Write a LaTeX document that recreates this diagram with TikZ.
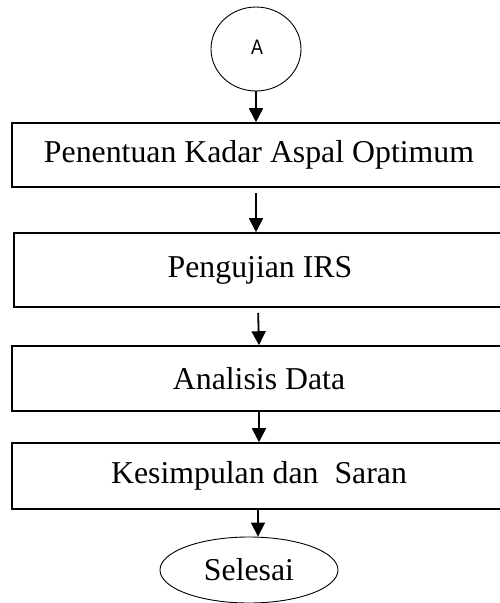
\documentclass[tikz,border=0pt]{standalone}
\usepackage{fontspec}
\setmainfont{Liberation Serif}
\newfontfamily\arialfont{Liberation Sans}
\usetikzlibrary{shapes.geometric,arrows.meta}
\begin{document}
\begin{tikzpicture}[x=1pt,y=-1pt,
  stepbox/.style={draw,line width=1.6pt,inner sep=0pt,font=\fontsize{31.8}{36}\selectfont},
  flowarrow/.style={line width=1.8pt,-{Triangle[width=14pt,length=14pt]}},
  terminal/.style={draw,ellipse,line width=0.9pt,inner sep=0pt}]
\useasboundingbox (0,0) rectangle (500,603);
\clip (0,0) rectangle (500,603);
% connector circle
\node[terminal,minimum width=90pt,minimum height=84pt,font=\arialfont\fontsize{21}{25}\selectfont] (A) at (256,49) {\hspace{2pt}\raisebox{4pt}{\scalebox{0.85}[1]{A}}};
% process boxes (right sides run past the page edge)
\node[stepbox,minimum width=494pt,minimum height=64pt] (b1) at (259,155) {Penentuan Kadar Aspal Optimum};
\node[stepbox,minimum width=492pt,minimum height=74pt] (b2) at (260,270) {Pengujian IRS};
\node[stepbox,minimum width=494pt,minimum height=65pt] (b3) at (259,378.5) {Analisis Data};
\node[stepbox,minimum width=494pt,minimum height=66pt] (b4) at (259,476) {Kesimpulan dan\ \ Saran};
% end terminal
\node[terminal,minimum width=178pt,minimum height=66pt,font=\fontsize{31.8}{36}\selectfont] (end) at (249,570) {Selesai};
% flow
\draw[flowarrow] (A.south) -- (A.south |- b1.north);
\draw[flowarrow,shorten <=5pt] (b1.south -| A.south) -- (b2.north -| A.south);
\draw[flowarrow,shorten <=5pt] ([xshift=-2pt]b2.south) -- (b3.north);
\draw[flowarrow] (b3.south) -- (b4.north);
\draw[flowarrow] ([xshift=-1pt]b4.south) -- ([xshift=-1pt]b4.south |- end.north);
\end{tikzpicture}
\end{document}
